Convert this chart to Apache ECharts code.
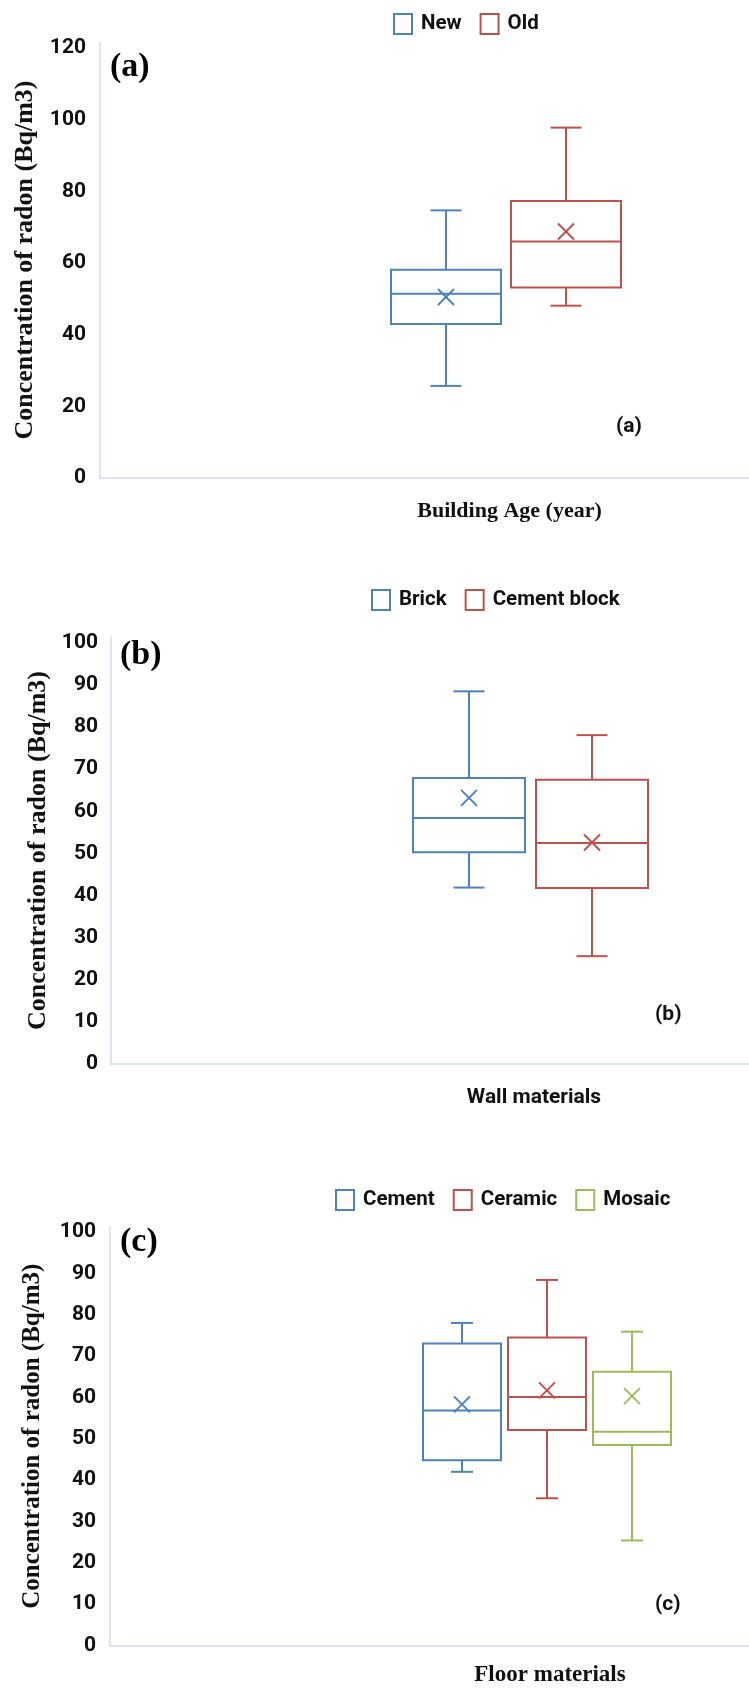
<!DOCTYPE html>
<html><head><meta charset="utf-8">
<script src="https://cdn.jsdelivr.net/npm/echarts@6/dist/echarts.min.js"></script>
<style>html,body{margin:0;padding:0;background:#fff}#chart{width:749px;height:1692px}</style>
</head><body><div id="chart"></div>
<script>
// ---------- DATA ----------
const ageGroups = ['New', 'Old'];
const ageMin = [25.7, 48.1];
const ageQ1 = [43.0, 53.2];
const ageMedian = [51.4, 66.0];
const ageQ3 = [58.1, 77.3];
const ageMax = [74.7, 97.8];
const ageMean = [50.5, 68.8];

const wallGroups = ['Brick', 'Cement block'];
const wallMin = [41.9, 25.6];
const wallQ1 = [50.3, 41.8];
const wallMedian = [58.4, 52.5];
const wallQ3 = [67.9, 67.5];
const wallMax = [88.5, 78.1];
const wallMean = [63.2, 52.6];

const floorGroups = ['Cement', 'Ceramic', 'Mosaic'];
const floorMin = [42.0, 35.6, 25.4];
const floorQ1 = [44.8, 52.1, 48.5];
const floorMedian = [56.8, 60.1, 51.7];
const floorQ3 = [73.0, 74.5, 66.2];
const floorMax = [78.0, 88.4, 75.9];
const floorMean = [58.3, 61.7, 60.3];

const xTitles = ['Building Age (year)', 'Wall materials', 'Floor materials'];
const yTitle = 'Concentration of radon (Bq/m3)';
const panelTags = ['(a)', '(b)', '(c)'];
const yIntervals = [20, 10, 10];

// ---------- LAYOUT / STYLE ----------
const colors = ['#4F81BD', '#C0504D', '#9BBB59'];
const W = 749, H = 1692;
const panelData = [
  {groups: ageGroups, min: ageMin, q1: ageQ1, med: ageMedian, q3: ageQ3, max: ageMax, mean: ageMean},
  {groups: wallGroups, min: wallMin, q1: wallQ1, med: wallMedian, q3: wallQ3, max: wallMax, mean: wallMean},
  {groups: floorGroups, min: floorMin, q1: floorQ1, med: floorMedian, q3: floorQ3, max: floorMax, mean: floorMean}
];
const panelLayout = [
  {left: 100, top: 42, axisY: 478, rightEdge: 919, yTop: 121.7, labelMargin: 14, nameGap: 62, nameSize: 26,
   xFont: 'Liberation Serif', xSize: 22, xMargin: 22, spacing: 120, shift: -3.5, boxW: 110, capW: 31,
   legendLeft: 393, legendTop: 13, tagLeft: 110, tagTop: 50, smallLeft: 616, smallTop: 416},
  {left: 111, top: 637, axisY: 1064, rightEdge: 957, yTop: 101.4, labelMargin: 13, nameGap: 60, nameSize: 26,
   xFont: 'Roboto', xSize: 21, xMargin: 23, spacing: 123, shift: -3.5, boxW: 112, capW: 31,
   legendLeft: 371, legendTop: 589, tagLeft: 120, tagTop: 638, smallLeft: 655, smallTop: 1004},
  {left: 110, top: 1227, axisY: 1645.5, rightEdge: 990, yTop: 101.2, labelMargin: 14, nameGap: 65, nameSize: 25,
   xFont: 'Liberation Serif', xSize: 23, xMargin: 18, spacing: 85, shift: -3, boxW: 78, capW: 22,
   legendLeft: 335, legendTop: 1189, tagLeft: 120, tagTop: 1225, smallLeft: 655, smallTop: 1594}
];

const axisColor = '#D3DCEC';
const grids = [], xAxes = [], yAxes = [], series = [], legends = [], titles = [];

panelLayout.forEach((L, p) => {
  const D = panelData[p];
  grids.push({left: L.left, top: L.top, width: L.rightEdge - L.left, height: L.axisY - L.top,
              containLabel: false, outerBoundsMode: 'none'});
  xAxes.push({
    type: 'category', gridIndex: p, data: [xTitles[p]],
    axisLine: {show: true, lineStyle: {color: axisColor, width: 1.5}},
    axisTick: {show: false},
    axisLabel: {margin: L.xMargin, fontFamily: L.xFont, fontWeight: 'bold', fontSize: L.xSize,
                lineHeight: L.xSize, color: '#111'},
    splitLine: {show: false}
  });
  yAxes.push({
    type: 'value', gridIndex: p, min: 0, max: L.yTop, interval: yIntervals[p],
    name: yTitle, nameLocation: 'middle', nameRotate: 90, nameGap: L.nameGap,
    nameTextStyle: {fontFamily: 'Liberation Serif', fontWeight: 'bold', fontSize: L.nameSize,
                    lineHeight: L.nameSize, color: '#111'},
    axisLine: {show: true, lineStyle: {color: axisColor, width: 1.5}},
    axisTick: {show: false},
    splitLine: {show: false},
    axisLabel: {margin: L.labelMargin, fontFamily: 'Roboto', fontWeight: 'bold', fontSize: 21,
                color: '#111', showMaxLabel: false}
  });
  const n = D.groups.length;
  D.groups.forEach((g, i) => {
    const color = colors[i];
    const off = (i - (n - 1) / 2) * L.spacing + L.shift;
    series.push({
      type: 'custom', name: g, xAxisIndex: p, yAxisIndex: p,
      itemStyle: {color: color},
      encode: {x: 0, y: [1, 2, 3, 4, 5, 6]},
      data: [[0, D.min[i], D.q1[i], D.med[i], D.q3[i], D.max[i], D.mean[i]]],
      renderItem: function (params, api) {
        const cx = api.coord([api.value(0), 0])[0] + off;
        const y = k => api.coord([api.value(0), api.value(k)])[1];
        const yMin = y(1), yQ1 = y(2), yMed = y(3), yQ3 = y(4), yMax = y(5), yMean = y(6);
        const st = {stroke: color, lineWidth: 2, fill: null};
        const hw = L.boxW / 2, hc = L.capW / 2, hm = 8;
        const ln = (x1, y1, x2, y2) => ({type: 'line', shape: {x1, y1, x2, y2}, style: st});
        return {type: 'group', children: [
          {type: 'rect', shape: {x: cx - hw, y: yQ3, width: L.boxW, height: yQ1 - yQ3},
           style: {stroke: color, lineWidth: 2, fill: 'rgba(0,0,0,0)'}},
          ln(cx - hw, yMed, cx + hw, yMed),
          ln(cx, yQ3, cx, yMax),
          ln(cx, yQ1, cx, yMin),
          ln(cx - hc, yMax, cx + hc, yMax),
          ln(cx - hc, yMin, cx + hc, yMin),
          ln(cx - hm, yMean - hm, cx + hm, yMean + hm),
          ln(cx - hm, yMean + hm, cx + hm, yMean - hm)
        ]};
      }
    });
  });
  legends.push({
    left: L.legendLeft, top: L.legendTop, padding: 0, itemGap: 18, itemWidth: 18, itemHeight: 20,
    selectedMode: false,
    textStyle: {fontFamily: 'Roboto', fontWeight: 'bold', fontSize: 20.5, color: '#111', padding: [0, 0, 0, 4]},
    data: D.groups.map((g, i) => ({name: g, icon: 'rect',
      itemStyle: {color: '#fff', borderColor: colors[i], borderWidth: 2}}))
  });
  titles.push({text: panelTags[p], left: L.tagLeft, top: L.tagTop, padding: 0,
    textStyle: {fontFamily: 'Liberation Serif', fontWeight: 'bold', fontSize: 34, lineHeight: 34, color: '#000'}});
  titles.push({text: panelTags[p], left: L.smallLeft, top: L.smallTop, padding: 0,
    textStyle: {fontFamily: 'Roboto', fontWeight: 'bold', fontSize: 21, lineHeight: 22, color: '#111'}});
});

const chart = echarts.init(document.getElementById('chart'), null, {renderer: 'canvas'});
chart.setOption({
  animation: false,
  backgroundColor: '#fff',
  title: titles,
  legend: legends,
  grid: grids,
  xAxis: xAxes,
  yAxis: yAxes,
  series: series
});
</script>
</body></html>
